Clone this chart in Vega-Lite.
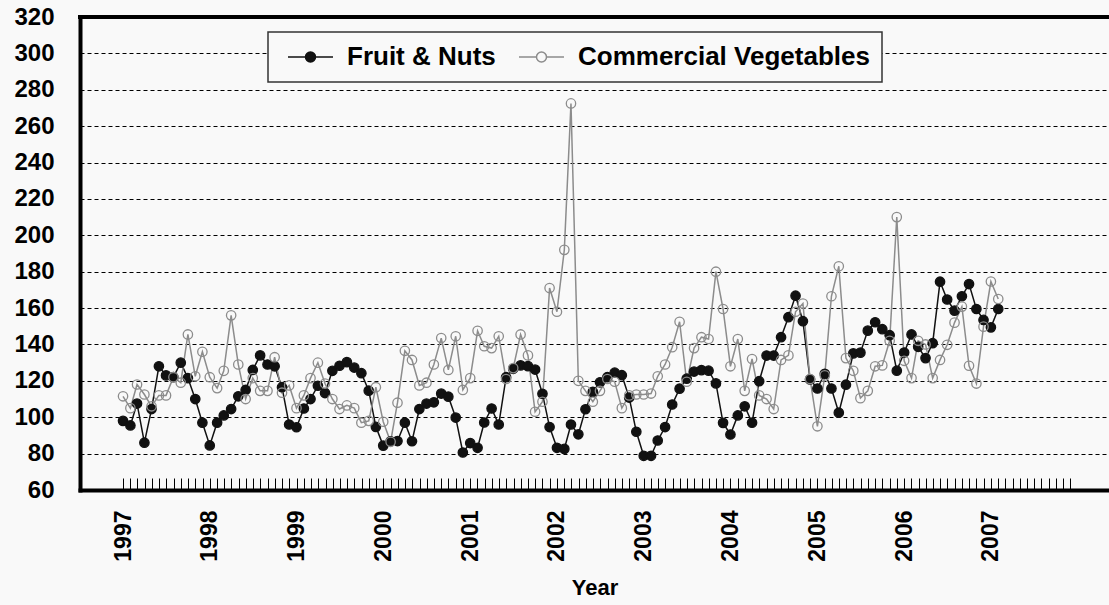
{
"$schema": "https://vega.github.io/schema/vega-lite/v6.json",
"width": 1029, "height": 473,
"autosize": {"type": "none"},
"padding": {"left": 80, "top": 17, "right": 0, "bottom": 115},
"background": "#f9f9f9",
"data": {"values": [
{"date":"1997-01-01","series":"Fruit & Nuts","value":98},{"date":"1997-02-01","series":"Fruit & Nuts","value":95.5},{"date":"1997-03-01","series":"Fruit & Nuts","value":107.5},{"date":"1997-04-01","series":"Fruit & Nuts","value":86},{"date":"1997-05-01","series":"Fruit & Nuts","value":104.5},{"date":"1997-06-01","series":"Fruit & Nuts","value":128},{"date":"1997-07-01","series":"Fruit & Nuts","value":123},{"date":"1997-08-01","series":"Fruit & Nuts","value":122},{"date":"1997-09-01","series":"Fruit & Nuts","value":130},{"date":"1997-10-01","series":"Fruit & Nuts","value":121.5},{"date":"1997-11-01","series":"Fruit & Nuts","value":110},{"date":"1997-12-01","series":"Fruit & Nuts","value":97},
{"date":"1998-01-01","series":"Fruit & Nuts","value":84.5},{"date":"1998-02-01","series":"Fruit & Nuts","value":97},{"date":"1998-03-01","series":"Fruit & Nuts","value":101},{"date":"1998-04-01","series":"Fruit & Nuts","value":104.5},{"date":"1998-05-01","series":"Fruit & Nuts","value":111.5},{"date":"1998-06-01","series":"Fruit & Nuts","value":115},{"date":"1998-07-01","series":"Fruit & Nuts","value":126},{"date":"1998-08-01","series":"Fruit & Nuts","value":134},{"date":"1998-09-01","series":"Fruit & Nuts","value":129},{"date":"1998-10-01","series":"Fruit & Nuts","value":128},{"date":"1998-11-01","series":"Fruit & Nuts","value":116.5},{"date":"1998-12-01","series":"Fruit & Nuts","value":96},
{"date":"1999-01-01","series":"Fruit & Nuts","value":94.5},{"date":"1999-02-01","series":"Fruit & Nuts","value":104.8},{"date":"1999-03-01","series":"Fruit & Nuts","value":110},{"date":"1999-04-01","series":"Fruit & Nuts","value":117.3},{"date":"1999-05-01","series":"Fruit & Nuts","value":113.3},{"date":"1999-06-01","series":"Fruit & Nuts","value":125.5},{"date":"1999-07-01","series":"Fruit & Nuts","value":128.3},{"date":"1999-08-01","series":"Fruit & Nuts","value":130.3},{"date":"1999-09-01","series":"Fruit & Nuts","value":127.3},{"date":"1999-10-01","series":"Fruit & Nuts","value":124.2},{"date":"1999-11-01","series":"Fruit & Nuts","value":114.6},{"date":"1999-12-01","series":"Fruit & Nuts","value":94.7},
{"date":"2000-01-01","series":"Fruit & Nuts","value":84.4},{"date":"2000-02-01","series":"Fruit & Nuts","value":86.8},{"date":"2000-03-01","series":"Fruit & Nuts","value":86.9},{"date":"2000-04-01","series":"Fruit & Nuts","value":97},{"date":"2000-05-01","series":"Fruit & Nuts","value":86.8},{"date":"2000-06-01","series":"Fruit & Nuts","value":104.5},{"date":"2000-07-01","series":"Fruit & Nuts","value":107.5},{"date":"2000-08-01","series":"Fruit & Nuts","value":108.2},{"date":"2000-09-01","series":"Fruit & Nuts","value":113},{"date":"2000-10-01","series":"Fruit & Nuts","value":111.3},{"date":"2000-11-01","series":"Fruit & Nuts","value":99.8},{"date":"2000-12-01","series":"Fruit & Nuts","value":80.6},
{"date":"2001-01-01","series":"Fruit & Nuts","value":85.8},{"date":"2001-02-01","series":"Fruit & Nuts","value":83.2},{"date":"2001-03-01","series":"Fruit & Nuts","value":97.1},{"date":"2001-04-01","series":"Fruit & Nuts","value":104.8},{"date":"2001-05-01","series":"Fruit & Nuts","value":96},{"date":"2001-06-01","series":"Fruit & Nuts","value":122},{"date":"2001-07-01","series":"Fruit & Nuts","value":126.6},{"date":"2001-08-01","series":"Fruit & Nuts","value":128.5},{"date":"2001-09-01","series":"Fruit & Nuts","value":128.1},{"date":"2001-10-01","series":"Fruit & Nuts","value":126.2},{"date":"2001-11-01","series":"Fruit & Nuts","value":112.9},{"date":"2001-12-01","series":"Fruit & Nuts","value":94.6},
{"date":"2002-01-01","series":"Fruit & Nuts","value":83.2},{"date":"2002-02-01","series":"Fruit & Nuts","value":82.6},{"date":"2002-03-01","series":"Fruit & Nuts","value":96},{"date":"2002-04-01","series":"Fruit & Nuts","value":90.6},{"date":"2002-05-01","series":"Fruit & Nuts","value":104.4},{"date":"2002-06-01","series":"Fruit & Nuts","value":114},{"date":"2002-07-01","series":"Fruit & Nuts","value":119.2},{"date":"2002-08-01","series":"Fruit & Nuts","value":122},{"date":"2002-09-01","series":"Fruit & Nuts","value":124.5},{"date":"2002-10-01","series":"Fruit & Nuts","value":123.1},{"date":"2002-11-01","series":"Fruit & Nuts","value":110.8},{"date":"2002-12-01","series":"Fruit & Nuts","value":92},
{"date":"2003-01-01","series":"Fruit & Nuts","value":78.8},{"date":"2003-02-01","series":"Fruit & Nuts","value":78.8},{"date":"2003-03-01","series":"Fruit & Nuts","value":87.2},{"date":"2003-04-01","series":"Fruit & Nuts","value":94.6},{"date":"2003-05-01","series":"Fruit & Nuts","value":107},{"date":"2003-06-01","series":"Fruit & Nuts","value":115.7},{"date":"2003-07-01","series":"Fruit & Nuts","value":121.2},{"date":"2003-08-01","series":"Fruit & Nuts","value":125.1},{"date":"2003-09-01","series":"Fruit & Nuts","value":125.9},{"date":"2003-10-01","series":"Fruit & Nuts","value":125.6},{"date":"2003-11-01","series":"Fruit & Nuts","value":118.6},{"date":"2003-12-01","series":"Fruit & Nuts","value":96.9},
{"date":"2004-01-01","series":"Fruit & Nuts","value":90.5},{"date":"2004-02-01","series":"Fruit & Nuts","value":101},{"date":"2004-03-01","series":"Fruit & Nuts","value":106},{"date":"2004-04-01","series":"Fruit & Nuts","value":97},{"date":"2004-05-01","series":"Fruit & Nuts","value":119.8},{"date":"2004-06-01","series":"Fruit & Nuts","value":133.9},{"date":"2004-07-01","series":"Fruit & Nuts","value":133.9},{"date":"2004-08-01","series":"Fruit & Nuts","value":144},{"date":"2004-09-01","series":"Fruit & Nuts","value":155},{"date":"2004-10-01","series":"Fruit & Nuts","value":166.8},{"date":"2004-11-01","series":"Fruit & Nuts","value":152.8},{"date":"2004-12-01","series":"Fruit & Nuts","value":120.8},
{"date":"2005-01-01","series":"Fruit & Nuts","value":115.8},{"date":"2005-02-01","series":"Fruit & Nuts","value":123.9},{"date":"2005-03-01","series":"Fruit & Nuts","value":115.8},{"date":"2005-04-01","series":"Fruit & Nuts","value":102.5},{"date":"2005-05-01","series":"Fruit & Nuts","value":117.9},{"date":"2005-06-01","series":"Fruit & Nuts","value":135.1},{"date":"2005-07-01","series":"Fruit & Nuts","value":135.5},{"date":"2005-08-01","series":"Fruit & Nuts","value":147.6},{"date":"2005-09-01","series":"Fruit & Nuts","value":152.2},{"date":"2005-10-01","series":"Fruit & Nuts","value":148.4},{"date":"2005-11-01","series":"Fruit & Nuts","value":145.1},{"date":"2005-12-01","series":"Fruit & Nuts","value":125.6},
{"date":"2006-01-01","series":"Fruit & Nuts","value":135.6},{"date":"2006-02-01","series":"Fruit & Nuts","value":145.5},{"date":"2006-03-01","series":"Fruit & Nuts","value":138.7},{"date":"2006-04-01","series":"Fruit & Nuts","value":132.5},{"date":"2006-05-01","series":"Fruit & Nuts","value":140.7},{"date":"2006-06-01","series":"Fruit & Nuts","value":174.5},{"date":"2006-07-01","series":"Fruit & Nuts","value":164.7},{"date":"2006-08-01","series":"Fruit & Nuts","value":158.6},{"date":"2006-09-01","series":"Fruit & Nuts","value":166.5},{"date":"2006-10-01","series":"Fruit & Nuts","value":173.2},{"date":"2006-11-01","series":"Fruit & Nuts","value":159.5},{"date":"2006-12-01","series":"Fruit & Nuts","value":153.5},
{"date":"2007-01-01","series":"Fruit & Nuts","value":149.4},{"date":"2007-02-01","series":"Fruit & Nuts","value":159.5},
{"date":"1997-01-01","series":"Commercial Vegetables","value":111.5},{"date":"1997-02-01","series":"Commercial Vegetables","value":105},{"date":"1997-03-01","series":"Commercial Vegetables","value":118},{"date":"1997-04-01","series":"Commercial Vegetables","value":112.5},{"date":"1997-05-01","series":"Commercial Vegetables","value":106},{"date":"1997-06-01","series":"Commercial Vegetables","value":112},{"date":"1997-07-01","series":"Commercial Vegetables","value":112},{"date":"1997-08-01","series":"Commercial Vegetables","value":122},{"date":"1997-09-01","series":"Commercial Vegetables","value":119},{"date":"1997-10-01","series":"Commercial Vegetables","value":145.5},{"date":"1997-11-01","series":"Commercial Vegetables","value":122.5},{"date":"1997-12-01","series":"Commercial Vegetables","value":136},
{"date":"1998-01-01","series":"Commercial Vegetables","value":122},{"date":"1998-02-01","series":"Commercial Vegetables","value":116},{"date":"1998-03-01","series":"Commercial Vegetables","value":125.5},{"date":"1998-04-01","series":"Commercial Vegetables","value":156},{"date":"1998-05-01","series":"Commercial Vegetables","value":129},{"date":"1998-06-01","series":"Commercial Vegetables","value":110},{"date":"1998-07-01","series":"Commercial Vegetables","value":121.5},{"date":"1998-08-01","series":"Commercial Vegetables","value":114.5},{"date":"1998-09-01","series":"Commercial Vegetables","value":114.5},{"date":"1998-10-01","series":"Commercial Vegetables","value":133},{"date":"1998-11-01","series":"Commercial Vegetables","value":113.5},{"date":"1998-12-01","series":"Commercial Vegetables","value":117.5},
{"date":"1999-01-01","series":"Commercial Vegetables","value":105},{"date":"1999-02-01","series":"Commercial Vegetables","value":112},{"date":"1999-03-01","series":"Commercial Vegetables","value":121.5},{"date":"1999-04-01","series":"Commercial Vegetables","value":130},{"date":"1999-05-01","series":"Commercial Vegetables","value":118.5},{"date":"1999-06-01","series":"Commercial Vegetables","value":110},{"date":"1999-07-01","series":"Commercial Vegetables","value":104.5},{"date":"1999-08-01","series":"Commercial Vegetables","value":106.5},{"date":"1999-09-01","series":"Commercial Vegetables","value":105},{"date":"1999-10-01","series":"Commercial Vegetables","value":97},{"date":"1999-11-01","series":"Commercial Vegetables","value":98},{"date":"1999-12-01","series":"Commercial Vegetables","value":116.5},
{"date":"2000-01-01","series":"Commercial Vegetables","value":97.5},{"date":"2000-02-01","series":"Commercial Vegetables","value":86.5},{"date":"2000-03-01","series":"Commercial Vegetables","value":108},{"date":"2000-04-01","series":"Commercial Vegetables","value":136.5},{"date":"2000-05-01","series":"Commercial Vegetables","value":131.5},{"date":"2000-06-01","series":"Commercial Vegetables","value":117.5},{"date":"2000-07-01","series":"Commercial Vegetables","value":119},{"date":"2000-08-01","series":"Commercial Vegetables","value":129},{"date":"2000-09-01","series":"Commercial Vegetables","value":143.5},{"date":"2000-10-01","series":"Commercial Vegetables","value":126},{"date":"2000-11-01","series":"Commercial Vegetables","value":144.5},{"date":"2000-12-01","series":"Commercial Vegetables","value":115},
{"date":"2001-01-01","series":"Commercial Vegetables","value":121.5},{"date":"2001-02-01","series":"Commercial Vegetables","value":147.5},{"date":"2001-03-01","series":"Commercial Vegetables","value":139},{"date":"2001-04-01","series":"Commercial Vegetables","value":138},{"date":"2001-05-01","series":"Commercial Vegetables","value":144.5},{"date":"2001-06-01","series":"Commercial Vegetables","value":121},{"date":"2001-07-01","series":"Commercial Vegetables","value":127},{"date":"2001-08-01","series":"Commercial Vegetables","value":145.5},{"date":"2001-09-01","series":"Commercial Vegetables","value":134},{"date":"2001-10-01","series":"Commercial Vegetables","value":103},{"date":"2001-11-01","series":"Commercial Vegetables","value":108.5},{"date":"2001-12-01","series":"Commercial Vegetables","value":171},
{"date":"2002-01-01","series":"Commercial Vegetables","value":158},{"date":"2002-02-01","series":"Commercial Vegetables","value":192},{"date":"2002-03-01","series":"Commercial Vegetables","value":272.5},{"date":"2002-04-01","series":"Commercial Vegetables","value":120},{"date":"2002-05-01","series":"Commercial Vegetables","value":114.5},{"date":"2002-06-01","series":"Commercial Vegetables","value":108.5},{"date":"2002-07-01","series":"Commercial Vegetables","value":114.5},{"date":"2002-08-01","series":"Commercial Vegetables","value":121},{"date":"2002-09-01","series":"Commercial Vegetables","value":119.5},{"date":"2002-10-01","series":"Commercial Vegetables","value":105},{"date":"2002-11-01","series":"Commercial Vegetables","value":112},{"date":"2002-12-01","series":"Commercial Vegetables","value":112.5},
{"date":"2003-01-01","series":"Commercial Vegetables","value":112.5},{"date":"2003-02-01","series":"Commercial Vegetables","value":113},{"date":"2003-03-01","series":"Commercial Vegetables","value":122.5},{"date":"2003-04-01","series":"Commercial Vegetables","value":129},{"date":"2003-05-01","series":"Commercial Vegetables","value":138.5},{"date":"2003-06-01","series":"Commercial Vegetables","value":152.5},{"date":"2003-07-01","series":"Commercial Vegetables","value":119.5},{"date":"2003-08-01","series":"Commercial Vegetables","value":138},{"date":"2003-09-01","series":"Commercial Vegetables","value":144},{"date":"2003-10-01","series":"Commercial Vegetables","value":143},{"date":"2003-11-01","series":"Commercial Vegetables","value":180},{"date":"2003-12-01","series":"Commercial Vegetables","value":159.5},
{"date":"2004-01-01","series":"Commercial Vegetables","value":128},{"date":"2004-02-01","series":"Commercial Vegetables","value":143},{"date":"2004-03-01","series":"Commercial Vegetables","value":114.5},{"date":"2004-04-01","series":"Commercial Vegetables","value":132},{"date":"2004-05-01","series":"Commercial Vegetables","value":112},{"date":"2004-06-01","series":"Commercial Vegetables","value":110},{"date":"2004-07-01","series":"Commercial Vegetables","value":104.5},{"date":"2004-08-01","series":"Commercial Vegetables","value":131.5},{"date":"2004-09-01","series":"Commercial Vegetables","value":134},{"date":"2004-10-01","series":"Commercial Vegetables","value":158},{"date":"2004-11-01","series":"Commercial Vegetables","value":162.5},{"date":"2004-12-01","series":"Commercial Vegetables","value":121},
{"date":"2005-01-01","series":"Commercial Vegetables","value":95},{"date":"2005-02-01","series":"Commercial Vegetables","value":123},{"date":"2005-03-01","series":"Commercial Vegetables","value":166.5},{"date":"2005-04-01","series":"Commercial Vegetables","value":183},{"date":"2005-05-01","series":"Commercial Vegetables","value":132.5},{"date":"2005-06-01","series":"Commercial Vegetables","value":125.5},{"date":"2005-07-01","series":"Commercial Vegetables","value":110.5},{"date":"2005-08-01","series":"Commercial Vegetables","value":114.5},{"date":"2005-09-01","series":"Commercial Vegetables","value":128},{"date":"2005-10-01","series":"Commercial Vegetables","value":128.5},{"date":"2005-11-01","series":"Commercial Vegetables","value":142},{"date":"2005-12-01","series":"Commercial Vegetables","value":210},
{"date":"2006-01-01","series":"Commercial Vegetables","value":131},{"date":"2006-02-01","series":"Commercial Vegetables","value":121.5},{"date":"2006-03-01","series":"Commercial Vegetables","value":142},{"date":"2006-04-01","series":"Commercial Vegetables","value":140},{"date":"2006-05-01","series":"Commercial Vegetables","value":121.5},{"date":"2006-06-01","series":"Commercial Vegetables","value":131.5},{"date":"2006-07-01","series":"Commercial Vegetables","value":139.8},{"date":"2006-08-01","series":"Commercial Vegetables","value":152},{"date":"2006-09-01","series":"Commercial Vegetables","value":160.8},{"date":"2006-10-01","series":"Commercial Vegetables","value":128.3},{"date":"2006-11-01","series":"Commercial Vegetables","value":118.5},{"date":"2006-12-01","series":"Commercial Vegetables","value":149.8},
{"date":"2007-01-01","series":"Commercial Vegetables","value":174.6},{"date":"2007-02-01","series":"Commercial Vegetables","value":165}
]},
"layer": [
{"mark": {"type": "rule", "color": "#000000", "strokeWidth": 4, "strokeCap": "square"},
 "encoding": {"y": {"datum": 320, "type": "quantitative"}}},
{"mark": {"type": "line", "strokeWidth": 1.5},
 "encoding": {
  "x": {"field": "date", "type": "temporal",
   "scale": {"type": "utc", "domain": [{"year": 1996, "month": 7, "date": 4, "utc": true}, {"year": 2008, "month": 5, "date": 12, "utc": true}]},
   "axis": {"title": "Year", "titleFont": "Liberation Sans", "titleFontWeight": "bold", "titleFontSize": 22, "titleColor": "#000000", "titlePadding": 16,
    "values": {"expr": "sequence(utc(1997,0,1), utc(2008,0,1) - 1, (utc(2008,0,1) - utc(1997,0,1)) / 132)"},
    "tickCount": 300,
    "labelExpr": "utcmonth(datum.value + 1296000000) === 0 ? utcFormat(datum.value + 1296000000, '%Y') : ''",
    "labelAngle": 270, "labelFont": "Liberation Sans", "labelFontWeight": "bold", "labelFontSize": 23, "labelColor": "#000000",
    "labelPadding": 32, "labelOverlap": false, "labelFlush": false, "labelBound": false,
    "ticks": true, "tickSize": -12, "tickColor": "#000000", "tickWidth": 1,
    "grid": false, "domain": true, "domainColor": "#000000", "domainWidth": 4, "domainCap": "square"}},
  "y": {"field": "value", "type": "quantitative",
   "scale": {"domain": [60, 320], "nice": false, "zero": false},
   "axis": {"title": null, "values": [60, 80, 100, 120, 140, 160, 180, 200, 220, 240, 260, 280, 300, 320], "tickCount": 50,
    "ticks": false, "labelPadding": 26, "labelFont": "Liberation Sans", "labelFontWeight": "bold", "labelFontSize": 24, "labelColor": "#000000",
    "labelOverlap": false, "labelFlush": false, "labelBound": false,
    "domain": true, "domainColor": "#000000", "domainWidth": 4, "domainCap": "square",
    "grid": true, "gridColor": "#000000", "gridDash": [4, 3], "gridWidth": 1, "gridOpacity": 1}},
  "stroke": {"field": "series", "type": "nominal",
   "scale": {"domain": ["Fruit & Nuts", "Commercial Vegetables"], "range": ["#111111", "#8c8c8c"]}}
 }},
{"mark": {"type": "point", "size": 88, "strokeWidth": 1.3, "opacity": 1},
 "encoding": {
  "x": {"field": "date", "type": "temporal"},
  "y": {"field": "value", "type": "quantitative"},
  "stroke": {"field": "series", "type": "nominal",
   "scale": {"domain": ["Fruit & Nuts", "Commercial Vegetables"], "range": ["#111111", "#8c8c8c"]},
   "legend": {"title": null, "orient": "none", "legendX": 188, "legendY": 15, "direction": "horizontal",
    "symbolType": "M-0.417,0L1.041,0M1.875,0L3.333,0M1.041,0A0.417,0.417,0,1,1,1.875,0A0.417,0.417,0,1,1,1.041,0Z",
    "symbolSize": 576, "symbolStrokeWidth": 1.5, "symbolOpacity": 1,
    "labelFont": "Liberation Sans", "labelFontWeight": "bold", "labelFontSize": 26, "labelColor": "#000000",
    "labelOffset": 41, "labelLimit": 400, "columnPadding": 15, "padding": 12,
    "strokeColor": "#333333", "fillColor": "#f9f9f9", "cornerRadius": 0}},
  "fill": {"field": "series", "type": "nominal",
   "scale": {"domain": ["Fruit & Nuts", "Commercial Vegetables"], "range": ["#111111", "transparent"]},
   "legend": {"title": null, "orient": "none", "legendX": 188, "legendY": 15, "direction": "horizontal",
    "symbolType": "M-0.417,0L1.041,0M1.875,0L3.333,0M1.041,0A0.417,0.417,0,1,1,1.875,0A0.417,0.417,0,1,1,1.041,0Z",
    "symbolSize": 576, "symbolStrokeWidth": 1.5, "symbolOpacity": 1,
    "labelFont": "Liberation Sans", "labelFontWeight": "bold", "labelFontSize": 26, "labelColor": "#000000",
    "labelOffset": 41, "labelLimit": 400, "columnPadding": 15, "padding": 12,
    "strokeColor": "#333333", "fillColor": "#f9f9f9", "cornerRadius": 0}}
 }}
],
"config": {
 "font": "Liberation Sans",
 "view": {"stroke": null},
 "legend": {"strokeWidth": 1.5}
}
}
